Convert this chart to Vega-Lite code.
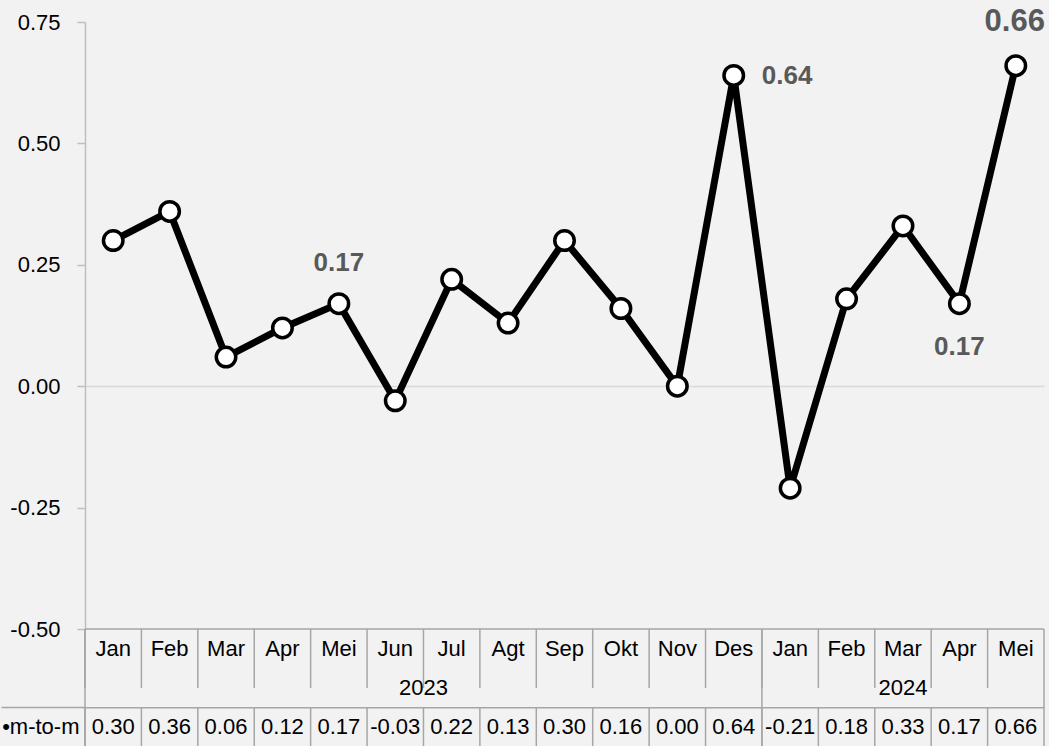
{
  "$schema": "https://vega.github.io/schema/vega-lite/v6.json",
  "background": "#f2f2f2",
  "padding": {"left": 0, "top": 5, "right": 6, "bottom": 0},
  "bounds": "flush",
  "spacing": 0,
  "config": {
    "view": {"stroke": null},
    "font": "Liberation Sans, Arial, sans-serif",
    "locale": {"number": {"decimal": ".", "thousands": ",", "grouping": [3], "currency": ["", ""], "minus": "-"}}
  },
  "datasets": {
    "m": [
      {"key": "2023-01", "month": "Jan", "year": "2023", "value": 0.30},
      {"key": "2023-02", "month": "Feb", "year": "2023", "value": 0.36},
      {"key": "2023-03", "month": "Mar", "year": "2023", "value": 0.06},
      {"key": "2023-04", "month": "Apr", "year": "2023", "value": 0.12},
      {"key": "2023-05", "month": "Mei", "year": "2023", "value": 0.17},
      {"key": "2023-06", "month": "Jun", "year": "2023", "value": -0.03},
      {"key": "2023-07", "month": "Jul", "year": "2023", "value": 0.22},
      {"key": "2023-08", "month": "Agt", "year": "2023", "value": 0.13},
      {"key": "2023-09", "month": "Sep", "year": "2023", "value": 0.30},
      {"key": "2023-10", "month": "Okt", "year": "2023", "value": 0.16},
      {"key": "2023-11", "month": "Nov", "year": "2023", "value": 0.00},
      {"key": "2023-12", "month": "Des", "year": "2023", "value": 0.64},
      {"key": "2024-01", "month": "Jan", "year": "2024", "value": -0.21},
      {"key": "2024-02", "month": "Feb", "year": "2024", "value": 0.18},
      {"key": "2024-03", "month": "Mar", "year": "2024", "value": 0.33},
      {"key": "2024-04", "month": "Apr", "year": "2024", "value": 0.17},
      {"key": "2024-05", "month": "Mei", "year": "2024", "value": 0.66}
    ],
    "rows": [
      {"row": "month"},
      {"row": "year"},
      {"row": "value"}
    ]
  },
  "vconcat": [
    {
      "width": 959,
      "height": 607,
      "data": {"name": "m"},
      "encoding": {
        "x": {"field": "key", "type": "ordinal", "sort": null, "scale": {"type": "point", "padding": 0.5}, "axis": null},
        "y": {
          "field": "value", "type": "quantitative",
          "scale": {"domain": [-0.5, 0.75], "nice": false, "zero": false},
          "axis": {
            "title": null,
            "values": [-0.5, -0.25, 0, 0.25, 0.5, 0.75],
            "format": ".2f",
            "labelFontSize": 22,
            "labelColor": "#000000",
            "labelPadding": 17,
            "tickSize": 8,
            "tickColor": "#bfbfbf",
            "tickWidth": 1.5,
            "domainColor": "#bfbfbf",
            "domainWidth": 1.5,
            "grid": true,
            "gridColor": "#d9d9d9",
            "gridWidth": 1.5,
            "gridOpacity": {"condition": {"test": "datum.value === 0", "value": 1}, "value": 0},
            "minExtent": 84,
            "maxExtent": 84
          }
        }
      },
      "layer": [
        {"mark": {"type": "line", "color": "#000000", "strokeWidth": 7}},
        {"mark": {"type": "point", "shape": "circle", "filled": true, "fill": "#ffffff", "stroke": "#000000", "strokeWidth": 3.5, "size": 380, "opacity": 1}},
        {
          "transform": [{"filter": "datum.key === '2023-05'"}],
          "mark": {"type": "text", "fontSize": 26, "fontWeight": "bold", "color": "#595959", "dy": -41},
          "encoding": {"text": {"field": "value", "format": ".2f"}}
        },
        {
          "transform": [{"filter": "datum.key === '2023-12'"}],
          "mark": {"type": "text", "fontSize": 26, "fontWeight": "bold", "color": "#595959", "align": "left", "dx": 28, "dy": 1},
          "encoding": {"text": {"field": "value", "format": ".2f"}}
        },
        {
          "transform": [{"filter": "datum.key === '2024-04'"}],
          "mark": {"type": "text", "fontSize": 26, "fontWeight": "bold", "color": "#595959", "dy": 43},
          "encoding": {"text": {"field": "value", "format": ".2f"}}
        },
        {
          "transform": [{"filter": "datum.key === '2024-05'"}],
          "mark": {"type": "text", "fontSize": 31, "fontWeight": "bold", "color": "#595959", "dy": -44, "dx": -1},
          "encoding": {"text": {"field": "value", "format": ".2f"}}
        }
      ]
    },
    {
      "width": 959,
      "height": 118,
      "data": {"name": "m"},
      "encoding": {
        "x": {"field": "key", "type": "ordinal", "sort": null, "scale": {"type": "band", "paddingInner": 0, "paddingOuter": 0}, "axis": null}
      },
      "layer": [
        {
          "data": {"name": "rows"},
          "mark": {"type": "rule", "color": "#a6a6a6", "strokeWidth": 1.5, "opacity": 0},
          "encoding": {
            "x": null,
            "y": {
              "field": "row", "type": "nominal", "sort": null,
              "scale": {"type": "band", "domain": ["month", "year", "value"], "paddingInner": 0, "paddingOuter": 0},
              "axis": {
                "title": null, "values": ["value"], "bandPosition": 0,
                "labelExpr": "'•m-to-m'", "labelFontSize": 22, "labelColor": "#000000", "labelPadding": -78,
                "domain": false, "ticks": true, "tickSize": 84, "tickColor": "#a6a6a6", "tickWidth": 1.5
              }
            }
          }
        },
        {
          "mark": {"type": "rule", "color": "#a6a6a6", "strokeWidth": 1.5},
          "encoding": {
            "x": {"field": "key", "type": "ordinal", "sort": null, "bandPosition": 0},
            "y": {"datum": "month", "type": "nominal", "bandPosition": 0},
            "y2": {"datum": "year"}
          }
        },
        {
          "mark": {"type": "rule", "color": "#a6a6a6", "strokeWidth": 1.5},
          "encoding": {
            "x": {"field": "key", "type": "ordinal", "sort": null, "bandPosition": 0},
            "y": {"datum": "value", "type": "nominal", "bandPosition": 0},
            "y2": {"datum": "value", "bandPosition": 1}
          }
        },
        {
          "transform": [{"filter": "datum.key === '2023-01' || datum.key === '2024-01'"}],
          "mark": {"type": "rule", "color": "#a6a6a6", "strokeWidth": 1.5},
          "encoding": {"x": {"field": "key", "type": "ordinal", "sort": null, "bandPosition": 0}}
        },
        {
          "transform": [{"filter": "datum.key === '2024-05'"}],
          "mark": {"type": "rule", "color": "#a6a6a6", "strokeWidth": 1.5},
          "encoding": {"x": {"field": "key", "type": "ordinal", "sort": null, "bandPosition": 1}}
        },
        {
          "transform": [{"filter": "datum.key === '2023-01'"}],
          "mark": {"type": "rule", "color": "#a6a6a6", "strokeWidth": 1.5},
          "encoding": {"x": null, "y": {"datum": "month", "type": "nominal", "bandPosition": 0}}
        },
        {
          "transform": [{"filter": "datum.key === '2023-01'"}],
          "mark": {"type": "rule", "color": "#a6a6a6", "strokeWidth": 1.5},
          "encoding": {"x": null, "y": {"datum": "value", "type": "nominal", "bandPosition": 0}}
        },
        {
          "mark": {"type": "text", "fontSize": 22, "color": "#000000"},
          "encoding": {
            "text": {"field": "month"},
            "y": {"datum": "month", "type": "nominal", "bandPosition": 0.5}
          }
        },
        {
          "mark": {"type": "text", "fontSize": 22, "color": "#000000"},
          "encoding": {
            "text": {"field": "value", "format": ".2f"},
            "y": {"datum": "value", "type": "nominal", "bandPosition": 0.5}
          }
        },
        {
          "transform": [{"filter": "datum.key === '2023-07'"}],
          "mark": {"type": "text", "fontSize": 22, "color": "#000000"},
          "encoding": {
            "x": {"field": "key", "type": "ordinal", "sort": null, "bandPosition": 0},
            "text": {"field": "year"},
            "y": {"datum": "year", "type": "nominal", "bandPosition": 0.5}
          }
        },
        {
          "transform": [{"filter": "datum.key === '2024-03'"}],
          "mark": {"type": "text", "fontSize": 22, "color": "#000000"},
          "encoding": {
            "text": {"field": "year"},
            "y": {"datum": "year", "type": "nominal", "bandPosition": 0.5}
          }
        }
      ]
    }
  ]
}
